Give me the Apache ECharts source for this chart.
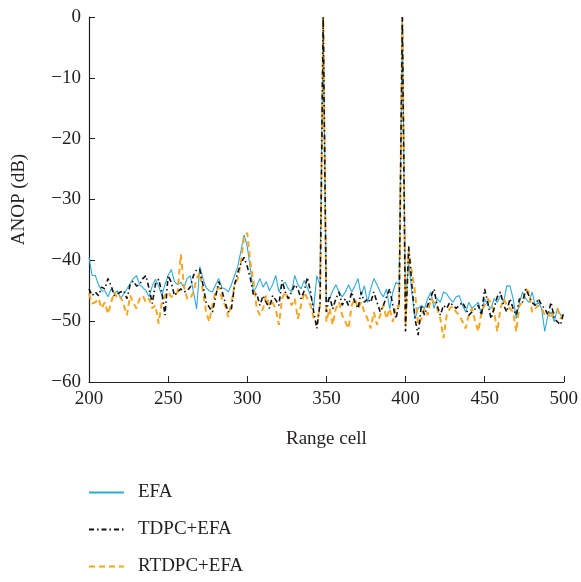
<!DOCTYPE html>
<html>
<head>
<meta charset="utf-8">
<script src="https://cdn.jsdelivr.net/npm/echarts@6/dist/echarts.min.js"></script>
<style>
  html, body { margin: 0; padding: 0; background: #fff; }
  #chart { width: 581px; height: 582px; }
</style>
</head>
<body>
<div id="chart"></div>
<script>
// range cells sampled every 2 cells, 200..500
const cellStart = 200
const cellStep = 2

const efa = [
  -39.5, -42.5, -42.5, -44, -45,
  -45, -46, -44.7, -45.5, -45,
  -46.3, -45.5, -44.7, -43.8, -43,
  -42.5, -44, -44.5, -45, -46,
  -44.2, -43.1, -44.2, -45.8, -44,
  -42.5, -41.5, -43.5, -44, -43.6,
  -44.5, -43, -42.5, -45.2, -48,
  -41, -43, -44.5, -45, -45.2,
  -44, -43, -44.5, -44.7, -45.2,
  -44, -42.5, -41, -38.5, -35.8,
  -37.7, -41.5, -45.2, -44.2, -43,
  -44.4, -43.5, -45, -44, -42.5,
  -45.2, -44, -43.6, -44.7, -45.2,
  -42.5, -44, -44.7, -43.3, -44.5,
  -45.8, -47.7, -42.5, -44.2, 0,
  -46.9, -46.3, -45, -44, -45.2,
  -46, -45.2, -44, -45.2, -44.2,
  -43, -45.8, -44.2, -46.9, -44.7,
  -43, -44, -45.2, -46, -44.7,
  -48, -45.2, -43.6, -44, 0,
  -46.9, -40.4, -45.2, -49.6, -47.9,
  -47.4, -47.9, -46.3, -45.2, -47.9,
  -46.3, -46.9, -45.2, -45.5, -46.3,
  -46.9, -46, -45.8, -47.4, -48.5,
  -46.9, -47.9, -47.4, -46.9, -49,
  -46.3, -47.4, -47.9, -46.3, -46.9,
  -45.8, -46.9, -44.2, -44.2, -46.3,
  -49.6, -46.9, -45.2, -46.3, -46.9,
  -45.2, -47.4, -46.9, -47.9, -51.7,
  -49, -48.5, -50.1, -47.9, -49, -49
]

const tdpc = [
  -44.7, -45.8, -45.2, -45.8, -44.4,
  -44.7, -43, -44.2, -45.8, -45.5,
  -45.2, -45, -46.3, -44, -43.4,
  -44.2, -44, -43, -42.5, -44.7,
  -47.1, -43.9, -43.1, -45.2, -49,
  -42.5, -43.6, -45.8, -45.2, -44.7,
  -45.2, -45, -44.4, -42.5, -41.5,
  -41.5, -44, -46.9, -47.7, -48.5,
  -46, -43.5, -45, -46.9, -48.5,
  -48, -44, -42, -40.5, -39.5,
  -41, -43, -45.8, -45.5, -47.4,
  -45.8, -46.9, -47.9, -45.8, -46.5,
  -47.4, -43.3, -45.2, -46.3, -45.2,
  -44, -44.7, -46.3, -45, -42.8,
  -45.2, -48.5, -51.2, -47, 0,
  -48.5, -45.8, -48, -46.3, -45.2,
  -47.4, -46.3, -47.4, -45.2, -46.9,
  -47.9, -45.2, -46.9, -46.3, -46.9,
  -45.2, -46.9, -48.5, -47.4, -46,
  -44.7, -47.4, -49.6, -46.9, 0,
  -51.7, -37.7, -44, -49.6, -52.3,
  -47.4, -49, -47.4, -46, -44.7,
  -47.4, -49, -47.4, -47.9, -46.9,
  -47.4, -47.9, -47.4, -46.9, -47.9,
  -49, -48.5, -48, -47.4, -49,
  -44.7, -46.9, -49.6, -47.9, -46,
  -45.2, -47.4, -48.5, -46.3, -47.9,
  -49, -46.3, -46.9, -44.7, -45.8,
  -46.9, -47.4, -46.3, -47.4, -47.9,
  -49, -46.9, -49.6, -50.1, -50.6, -48.5
]

const rtdpc = [
  -45.5, -47.1, -46.9, -46.3, -47.9,
  -46.9, -48.8, -46.9, -45.2, -46.3,
  -46, -47.4, -49, -45.8, -47,
  -47.9, -46.3, -45.8, -46.9, -46.3,
  -47.9, -47.4, -50.4, -46.9, -45.8,
  -45.2, -46, -45.8, -45.2, -39,
  -44.2, -46.3, -46.3, -45.2, -43,
  -42, -45.2, -48.5, -50.1, -47.4,
  -45, -44.4, -46.3, -47.4, -49.3,
  -47, -44, -43, -40.4, -36,
  -35.5, -40.4, -43.6, -47.9, -49,
  -47.9, -45.8, -47.4, -46.9, -48,
  -50.6, -46.3, -45.2, -46.3, -47.4,
  -46.3, -49.6, -47.4, -45.2, -46.3,
  -47.4, -49.5, -50.6, -47.4, 0,
  -50.1, -47.9, -50.6, -47.9, -46.9,
  -49, -50.1, -51.2, -47.4, -46.3,
  -47.9, -46.9, -48.5, -49.6, -51.2,
  -48.5, -50.6, -49, -47.4, -49.6,
  -47.9, -50.1, -47.4, -47.6, 0,
  -50.6, -38.5, -42, -45.2, -50.6,
  -49.6, -47.9, -49, -46.3, -46.9,
  -47.9, -49.6, -52.8, -49, -47.9,
  -47.6, -48.5, -49, -50.1, -51.2,
  -49, -47.9, -50, -51.7, -48.5,
  -47.4, -46.3, -46.9, -48.5, -51.7,
  -47.9, -46.3, -47.4, -47.9, -48.5,
  -51.7, -47.4, -46.9, -44.7, -45.2,
  -48.5, -47.9, -47.4, -47.9, -49,
  -48.5, -49.6, -48.5, -47.9, -49.6, -48.5
]

const seriesNames = ['EFA', 'TDPC+EFA', 'RTDPC+EFA']

function pairs(vals) {
  return vals.map((v, i) => [cellStart + i * cellStep, v])
}

const font = '"Liberation Serif", "DejaVu Serif", serif'
const ink = '#231f20'
const minus = v => String(v).replace('-', '\u2212')

const myChart = echarts.init(document.getElementById('chart'))
myChart.setOption({
  animation: false,
  grid: {
    left: 89,
    right: 17,
    top: 17,
    bottom: 200
  },
  legend: {
    orient: 'vertical',
    left: 88,
    top: 483,
    height: 99,
    itemWidth: 35,
    itemHeight: 14,
    itemGap: 18,
    padding: 0,
    data: seriesNames,
    itemStyle: { opacity: 0 },
    textStyle: {
      fontFamily: font,
      fontSize: 19,
      color: ink,
      padding: [0, 0, 0, 9]
    }
  },
  xAxis: {
    type: 'value',
    min: 200,
    max: 500,
    interval: 50,
    name: 'Range cell',
    nameLocation: 'middle',
    nameGap: 48,
    nameTextStyle: { fontFamily: font, fontSize: 19, color: ink },
    axisLine: { onZero: false, lineStyle: { color: ink, width: 1.2 } },
    axisTick: { inside: true, length: 6, lineStyle: { color: ink } },
    axisLabel: { fontFamily: font, fontSize: 19, color: ink, margin: 8 },
    splitLine: { show: false }
  },
  yAxis: {
    type: 'value',
    min: -60,
    max: 0,
    interval: 10,
    name: 'ANOP (dB)',
    nameLocation: 'middle',
    nameGap: 60,
    nameTextStyle: { fontFamily: font, fontSize: 19, color: ink },
    axisLine: { show: true, lineStyle: { color: ink, width: 1.2 } },
    axisTick: { show: true, inside: true, length: 6, lineStyle: { color: ink } },
    axisLabel: { fontFamily: font, fontSize: 19, color: ink, margin: 8, formatter: minus },
    splitLine: { show: false }
  },
  series: [
    {
      name: 'EFA',
      type: 'line',
      data: pairs(efa),
      symbol: 'none',
      z: 2,
      lineStyle: { color: '#2ea8dd', width: 1.1 },
      itemStyle: { color: '#2ea8dd' }
    },
    {
      name: 'TDPC+EFA',
      type: 'line',
      data: pairs(tdpc),
      symbol: 'none',
      z: 4,
      lineStyle: { color: '#111111', width: 1.6, type: [5, 3, 1.5, 3] },
      itemStyle: { color: '#111111' }
    },
    {
      name: 'RTDPC+EFA',
      type: 'line',
      data: pairs(rtdpc),
      symbol: 'none',
      z: 3,
      lineStyle: { color: '#f6a623', width: 2, type: [6, 4] },
      itemStyle: { color: '#f6a623' }
    }
  ]
})
</script>
</body>
</html>
